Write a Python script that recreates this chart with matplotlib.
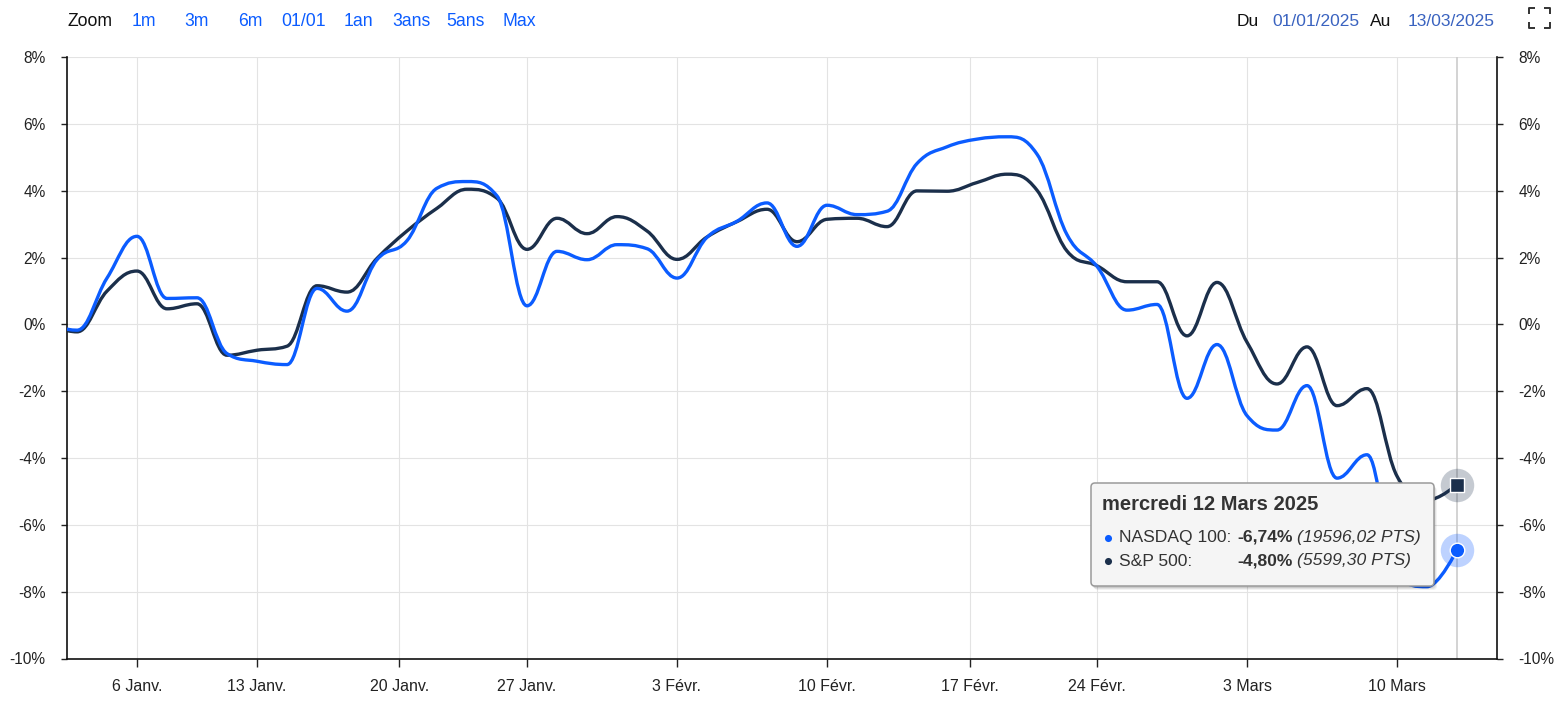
"""NASDAQ 100 vs S&P 500, performance since 01/01/2025 (Highstock-style spline chart)."""

import matplotlib

matplotlib.use("Agg")
import matplotlib.pyplot as plt
import numpy as np
import pandas as pd
from matplotlib.patches import FancyBboxPatch, PathPatch
from matplotlib.path import Path
from matplotlib.ticker import FuncFormatter

plt.rcParams["font.family"] = ["Liberation Sans", "DejaVu Sans"]

# ── data ──
HOLIDAYS = ["2025-01-01", "2025-01-09", "2025-01-20", "2025-02-17"]
dates = pd.bdate_range("2024-12-31", "2025-03-12")
dates = dates[~dates.isin(pd.to_datetime(HOLIDAYS))]

nasdaq = [0.00, -0.17, 1.39, 2.64, 0.78, 0.80, -0.87, -1.10, -1.20, 1.08, 0.40,
          1.94, 2.51, 4.08, 4.28, 3.85, 0.56, 2.19, 1.94, 2.39, 2.27, 1.39,
          2.61, 3.09, 3.64, 2.34, 3.57, 3.29, 3.39, 4.82, 5.32, 5.55, 5.62,
          5.10, 2.69, 1.74, 0.43, 0.60, -2.21, -0.60, -2.73, -3.16, -1.83,
          -4.60, -3.90, -7.55, -7.85, -6.74]
sp500 = [0.00, -0.22, 1.00, 1.60, 0.47, 0.62, -0.92, -0.77, -0.65, 1.16, 0.97,
         1.98, 2.80, 3.48, 4.05, 3.78, 2.25, 3.18, 2.72, 3.23, 2.80, 1.95,
         2.62, 3.08, 3.45, 2.48, 3.15, 3.18, 2.93, 4.00, 3.99, 4.25, 4.50,
         4.02, 2.20, 1.76, 1.28, 1.28, -0.34, 1.26, -0.53, -1.78, -0.67,
         -2.43, -1.92, -4.54, -5.26, -4.80]

tick_dates = ["2025-01-06", "2025-01-13", "2025-01-20", "2025-01-27", "2025-02-03",
              "2025-02-10", "2025-02-17", "2025-02-24", "2025-03-03", "2025-03-10"]
tick_labels = ["6 Janv.", "13 Janv.", "20 Janv.", "27 Janv.", "3 Févr.",
               "10 Févr.", "17 Févr.", "24 Févr.", "3 Mars", "10 Mars"]

BLUE = "#0b5cff"
NAVY = "#1b2f4b"

# ordinal x axis: one slot per trading day, Dec 31 sits just left of the plot
xs = np.arange(len(dates)) - 1.0
day_ord = np.array([d.toordinal() for d in dates])
tick_pos = np.interp([pd.Timestamp(t).toordinal() for t in tick_dates], day_ord, xs)


def spline_path(x, y, smoothing=1.5):
    """Bezier path through the points, same control points as a Highcharts spline."""
    n = len(x)
    left, right = [None] * n, [None] * n
    d = smoothing + 1
    for i in range(1, n - 1):
        px, py = x[i], y[i]
        lx, ly, nx, ny = x[i - 1], y[i - 1], x[i + 1], y[i + 1]
        lcx, lcy = (smoothing * px + lx) / d, (smoothing * py + ly) / d
        rcx, rcy = (smoothing * px + nx) / d, (smoothing * py + ny) / d
        if rcx != lcx:
            corr = (rcy - lcy) * (rcx - px) / (rcx - lcx) + py - rcy
            lcy += corr
            rcy += corr
        if lcy > ly and lcy > py:
            lcy = max(ly, py); rcy = 2 * py - lcy
        elif lcy < ly and lcy < py:
            lcy = min(ly, py); rcy = 2 * py - lcy
        if rcy > ny and rcy > py:
            rcy = max(ny, py); lcy = 2 * py - rcy
        elif rcy < ny and rcy < py:
            rcy = min(ny, py); lcy = 2 * py - rcy
        left[i], right[i] = (lcx, lcy), (rcx, rcy)
    verts, codes = [(x[0], y[0])], [Path.MOVETO]
    for i in range(1, n):
        verts += [right[i - 1] or (x[i - 1], y[i - 1]), left[i] or (x[i], y[i]), (x[i], y[i])]
        codes += [Path.CURVE4] * 3
    return Path(verts, codes)


W, H = 1568, 707
fig = plt.figure(figsize=(W / 100, H / 100), dpi=100)
ax = fig.add_axes([67 / W, 1 - 658.5 / H, 1430 / W, (658.5 - 57.3) / H])
ax.set_xlim(-0.333, 47.333)
ax.set_ylim(-10, 8)

ax.set_yticks(np.arange(-10, 9, 2))
ax.yaxis.set_major_formatter(FuncFormatter(lambda v, _: f"{v:.0f}%"))
ax.set_xticks(tick_pos)
ax.set_xticklabels(tick_labels)
ax.grid(True, color="#e3e3e3", lw=0.8)
ax.set_axisbelow(True)
for s in ("left", "right", "bottom"):
    ax.spines[s].set_color("#111111")
    ax.spines[s].set_linewidth(1.2)
ax.spines["top"].set_visible(False)
ax.tick_params(axis="y", which="both", left=True, right=True, labelright=True,
               length=4.5, width=1, pad=11, labelsize=11.2, colors="#222222")
ax.tick_params(axis="x", length=5.5, width=1, pad=9.5, labelsize=11.5, colors="#222222")

# crosshair on the last point
ax.axvline(xs[-1], color="#cccccc", lw=1.2, zorder=1)

for vals, col in ((sp500, NAVY), (nasdaq, BLUE)):
    ax.add_patch(PathPatch(spline_path(xs, vals), fill=False, edgecolor=col, lw=2.4,
                           capstyle="round", joinstyle="round", zorder=3))

# hover markers on 12 Mars
ax.scatter([xs[-1]], [sp500[-1]], s=580, color=NAVY, alpha=0.25, lw=0, zorder=4, clip_on=False)
ax.scatter([xs[-1]], [sp500[-1]], s=95, marker="s", color=NAVY, edgecolor="white",
           lw=1, zorder=5, clip_on=False)
ax.scatter([xs[-1]], [nasdaq[-1]], s=580, color=BLUE, alpha=0.27, lw=0, zorder=4, clip_on=False)
ax.scatter([xs[-1]], [nasdaq[-1]], s=110, color=BLUE, edgecolor="white",
           lw=1, zorder=5, clip_on=False)

# ── overlay in pixel coordinates: range selector + tooltip ──
ov = fig.add_axes([0, 0, 1, 1], zorder=10)
ov.set_xlim(0, W)
ov.set_ylim(H, 0)
ov.axis("off")
ov.patch.set_alpha(0)

ov.text(68, 21, "Zoom", fontsize=12.7, color="#111111", va="center")
for cx, lab in zip([144, 196, 250, 304, 358, 411, 465, 519],
                   ["1m", "3m", "6m", "01/01", "1an", "3ans", "5ans", "Max"]):
    ov.text(cx, 21, lab, fontsize=12.7, color=BLUE, ha="center", va="center")
ov.text(1237, 21, "Du", fontsize=12.5, color="#111111", va="center")
ov.text(1272, 21, "01/01/2025", fontsize=12.5, color="#3a63c0", va="center")
ov.text(1370, 21, "Au", fontsize=12.5, color="#111111", va="center")
ov.text(1408, 21, "13/03/2025", fontsize=12.5, color="#3a63c0", va="center")
# fullscreen icon
for (x0, y0, dx, dy) in ((1529, 8, 1, 1), (1550, 8, -1, 1), (1529, 28, 1, -1), (1550, 28, -1, -1)):
    ov.plot([x0, x0, x0 + 6 * dx], [y0 + 6 * dy, y0, y0], color="#333333", lw=1.4,
            solid_capstyle="butt")

# tooltip
bx, by, bw, bh = 1091, 483, 343, 103
for k, a in ((4, 0.05), (3, 0.07), (2, 0.09)):
    ov.add_patch(FancyBboxPatch((bx + k - 1, by + k), bw, bh,
                                boxstyle="round,pad=0,rounding_size=4",
                                facecolor="#000000", alpha=a, lw=0))
ov.add_patch(FancyBboxPatch((bx, by), bw, bh, boxstyle="round,pad=0,rounding_size=4",
                            facecolor="#f5f5f5", edgecolor="#9a9a9a", lw=1.1))
ov.text(1102, 505, "mercredi 12 Mars 2025", fontsize=14.5, fontweight="bold",
        color="#333333", va="center")
rows = [("NASDAQ 100:", "-6,74%", "(19596,02 PTS)", BLUE, 537.5),
        ("S&P 500:", "-4,80%", "(5599,30 PTS)", NAVY, 561)]
for name, pct, pts, col, yy in rows:
    ov.scatter([1108], [yy], s=26, color=col, lw=0)
    ov.text(1119, yy, name, fontsize=12.6, color="#333333", va="center")
    ov.text(1237, yy, pct, fontsize=12.6, fontweight="bold", color="#333333", va="center")
    ov.text(1297, yy, pts, fontsize=12.6, style="italic", color="#333333", va="center")

fig.savefig("out.png", dpi=100)
